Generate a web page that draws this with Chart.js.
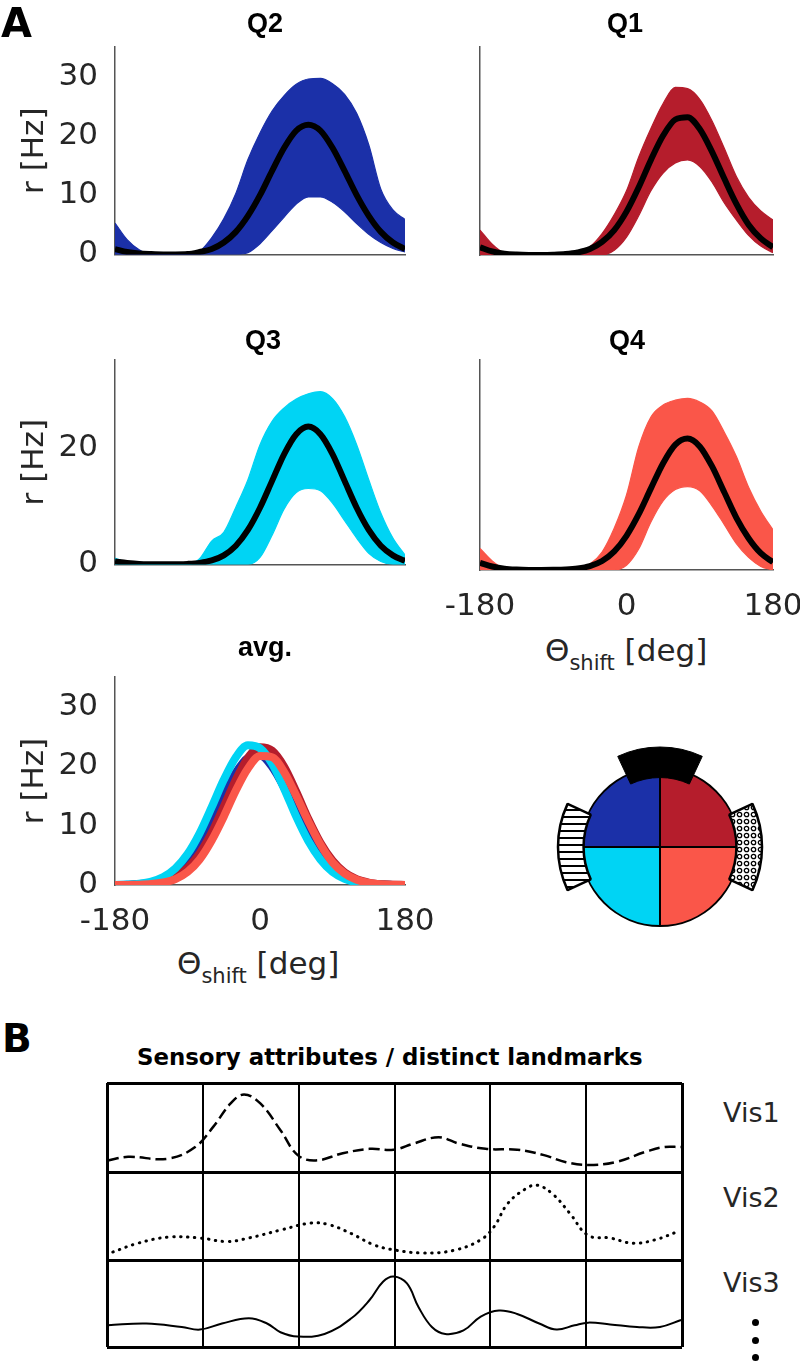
<!DOCTYPE html>
<html><head><meta charset="utf-8">
<script src="https://cdn.jsdelivr.net/npm/chart.js@4.4.1/dist/chart.umd.min.js"></script>
<style>
html,body{margin:0;padding:0;background:#fff;}
body{width:800px;height:1364px;position:relative;overflow:hidden;font-family:"DejaVu Sans",sans-serif;color:#262626;}
.t{position:absolute;white-space:nowrap;line-height:1.2;}
.dot{position:absolute;width:7px;height:7px;border-radius:50%;background:#000;}
</style></head><body>
<script>
// ---------------- DATA ----------------
const theta = [-180,-165,-150,-135,-120,-105,-90,-75,-60,-45,-30,-15,0,15,30,45,60,75,90,105,120,135,150,165,180];

const q2Mean  = [0.9,0.4,0.15,0.05,0,0,0.05,0.4,0.9,2.0,3.8,6.5,10.0,14.1,18.0,20.9,21.9,20.9,18.0,14.1,10.0,6.5,3.8,2.0,0.9];
const q2Upper = [5.3,2.5,0.8,0,0,0,0,0.5,2.8,6.0,10.3,16.0,20.5,24.2,26.8,28.7,29.6,29.7,28.8,27.0,23.8,18.5,11.0,7.5,5.9];
const q2Lower = [0,0,0,0,0,0,0,0,0,0,0,0.3,1.8,4.0,6.3,8.5,9.7,9.7,8.8,7.2,5.2,3.4,2.0,1.0,0.4];

const q1Mean  = [1.3,0.6,0.23,0.08,0.02,0.01,0.05,0.16,0.43,1.0,2.2,4.2,7.3,11.4,16.0,20.1,22.8,23.2,21.2,17.4,12.9,8.6,5.1,2.8,1.3];
const q1Upper = [4.2,1.8,0.3,0,0,0,0.1,0.3,0.6,1.4,3.6,6.8,10.8,16.5,21.3,25.5,28.2,28.0,26.2,22.6,18.0,13.2,9.7,7.4,5.9];
const q1Lower = [0,0,0,0,0,0,0,0,0,0,0,0.8,3.0,6.6,10.8,13.8,15.5,16.0,14.9,12.3,8.8,5.9,3.3,1.5,0.4];

const q3Mean  = [0.5,0.26,0.09,0.03,0.01,0.03,0.09,0.26,0.67,1.55,3.2,5.9,9.7,14.3,18.9,22.3,23.6,22.3,18.9,14.3,9.7,5.9,3.2,1.55,0.6];
const q3Upper = [1.1,0.3,0,0,0,0,0,1.0,4.0,5.5,9.8,14.5,20.5,24.5,26.8,28.3,29.2,29.6,28.4,25.3,20.5,14.5,8.8,4.5,1.6];
const q3Lower = [0,0,0,0,0,0,0,0,0,0,0,0,1.2,5.0,9.5,12.3,13.0,12.6,10.5,7.5,4.5,1.9,0.5,0,0];

const q4Mean  = [1.2,0.59,0.23,0.08,0.02,0.01,0.03,0.09,0.26,0.66,1.5,3.1,5.7,9.3,13.6,17.8,20.9,21.9,20.6,17.3,13.0,8.7,5.3,2.8,1.3];
const q4Upper = [3.6,1.5,0.2,0,0,0,0,0,0.3,1.0,3.0,7.0,12.5,20.5,25.5,27.5,28.3,28.6,28.0,26.5,23.0,18.9,13.8,9.8,6.7];
const q4Lower = [0,0,0,0,0,0,0,0,0,0,0,0,0.8,3.5,8.0,11.5,13.4,13.9,13.2,10.7,7.6,4.4,2.1,0.6,0];

const avgQ2 = [0,0.05,0.15,0.4,0.96,2.1,4.0,6.9,10.7,15.0,18.9,21.4,21.8,19.9,16.4,12.1,8.1,4.8,2.6,1.25,0.54,0.21,0.07,0.02,0];
const avgQ1 = [0,0.02,0.09,0.24,0.62,1.4,2.9,5.3,8.8,13.2,17.7,21.4,23.2,22.6,19.9,15.7,11.1,7.1,4.1,2.1,0.97,0.41,0.15,0.05,0.01];
const avgQ3 = [0,0.08,0.23,0.59,1.35,2.8,5.2,8.7,13.1,17.7,21.5,23.5,23.0,20.4,16.2,11.5,7.4,4.3,2.2,1.04,0.44,0.16,0.05,0.01,0];
const avgQ4 = [0,0.01,0.05,0.16,0.43,1.0,2.2,4.3,7.5,11.5,15.9,19.6,21.7,21.5,19.0,15.0,10.7,6.8,3.8,1.94,0.88,0.36,0.13,0.04,0.01];

const xTickValues = [-180, 0, 180];
const yTicksFull  = [0, 10, 20, 30];
const yTicksQ3    = [0, 20];

// quadrant pie (clockwise from top): Q1, Q4, Q3, Q2
const quadLabels = ['Q1','Q4','Q3','Q2'];
const quadShares = [1, 1, 1, 1];
// cue arcs around the arena, in degrees
const topCue   = [50, 310];          // from -25deg: black cue, gap
const sideCues = [50, 130, 50, 130]; // from 65deg: right cue, gap, left cue, gap

// panel B: landmark tuning curves (x in column units 0..6, y fraction of row)
const vis1X = [0.01,0.22,0.64,0.92,1.11,1.29,1.43,1.60,1.81,1.99,2.18,2.46,2.74,2.99,3.20,3.46,3.67,3.95,4.28,4.56,4.79,5.02,5.30,5.63,5.81,5.99];
const vis1Y = [0.13,0.17,0.15,0.28,0.51,0.77,0.87,0.77,0.47,0.19,0.13,0.21,0.26,0.25,0.32,0.39,0.32,0.26,0.25,0.19,0.11,0.08,0.11,0.23,0.28,0.28];
const vis2X = [0.06,0.32,0.64,0.97,1.25,1.48,1.81,2.13,2.32,2.55,2.79,3.02,3.30,3.62,3.90,4.04,4.18,4.37,4.49,4.65,4.83,5.02,5.25,5.49,5.72,5.95];
const vis2Y = [0.09,0.19,0.26,0.25,0.21,0.25,0.34,0.42,0.40,0.30,0.17,0.11,0.08,0.11,0.23,0.38,0.64,0.81,0.85,0.75,0.53,0.28,0.25,0.19,0.23,0.32];
const vis3X = [0.01,0.41,0.78,0.97,1.20,1.48,1.67,1.81,1.99,2.27,2.55,2.74,2.88,2.99,3.13,3.25,3.39,3.53,3.72,3.90,4.09,4.28,4.51,4.69,4.88,5.02,5.25,5.53,5.77,5.99];
const vis3Y = [0.25,0.27,0.23,0.20,0.27,0.33,0.27,0.17,0.12,0.15,0.33,0.54,0.75,0.81,0.73,0.46,0.23,0.15,0.19,0.35,0.42,0.38,0.27,0.20,0.25,0.28,0.26,0.23,0.23,0.31];
const columnTicks = [0,1,2,3,4,5,6];
const rowTicks = [0,1];

// ---------------- STYLE ----------------
const C_Q2 = '#1b30a8', C_Q1 = '#b51d2c', C_Q3 = '#00d4f4', C_Q4 = '#fa5649';
const AXIS = '#555555', TXT = '#262626';
const FONT = '"DejaVu Sans", sans-serif';
const FS = 31;

function mkCanvas(box) {
  const c = document.createElement('canvas');
  c.width = box.w; c.height = box.h;
  c.style.cssText = `position:absolute;left:${box.l}px;top:${box.t}px;width:${box.w}px;height:${box.h}px`;
  document.body.appendChild(c);
  return c.getContext('2d');
}
function pts(xs, ys) { return xs.map((x, i) => ({x, y: ys[i]})); }

function tuningChart(box, area, datasets, o) {
  const padTop = area.t - box.t, padRight = box.l + box.w - area.r;
  const yW = area.l - box.l, xH = box.t + box.h - area.b;
  return new Chart(mkCanvas(box), {
    type: 'line',
    data: {datasets},
    options: {
      responsive: false, animation: false, devicePixelRatio: 1,
      layout: {padding: {top: padTop, right: padRight, left: 0, bottom: 0}},
      plugins: {legend: {display: false}, tooltip: {enabled: false}},
      elements: {point: {radius: 0}, line: {cubicInterpolationMode: 'monotone'}},
      scales: {
        x: {type: 'linear', min: -180, max: 180,
          afterFit: s => { s.height = xH; },
          afterBuildTicks: s => { s.ticks = xTickValues.map(v => ({value: v})); },
          grid: {display: false, drawTicks: false},
          border: {display: true, color: AXIS, width: 1.5},
          ticks: {display: !!o.xLabels, font: {family: FONT, size: FS}, color: TXT, padding: 18, maxRotation: 0, autoSkip: false}
        },
        y: {min: 0, max: 35,
          afterFit: s => { s.width = yW; },
          afterBuildTicks: s => { s.ticks = (o.yTicks || []).map(v => ({value: v})); },
          grid: {display: false, drawTicks: false},
          border: {display: true, color: AXIS, width: 1.5},
          ticks: {display: !!o.yTicks, font: {family: FONT, size: FS}, color: TXT, padding: 17},
          title: {display: !!o.yTitle, text: 'r [Hz]', font: {family: FONT, size: FS}, color: TXT, padding: {top: 16, bottom: 0}}
        }
      }
    }
  });
}
function bandSets(color, mean, upper, lower) {
  return [
    {data: pts(theta, mean), borderColor: '#000', borderWidth: 6, fill: false, order: 0},
    {data: pts(theta, upper), borderColor: color, borderWidth: 1.2, backgroundColor: color, fill: '+1', order: 1},
    {data: pts(theta, lower), borderColor: color, borderWidth: 1.2, fill: false, order: 2}
  ];
}

// ---------------- TEXT ----------------
function placeText(html, x, base, style, align, fitW) {
  const d = document.createElement('div');
  d.className = 't';
  d.style.cssText += style;
  d.innerHTML = html + '<span class="bl" style="display:inline-block;width:0;height:0;vertical-align:baseline"></span>';
  document.body.appendChild(d);
  const b = d.querySelector('.bl').offsetTop;
  let w = d.offsetWidth;
  if (fitW) { d.style.transformOrigin = '0 0'; d.style.transform = `scaleX(${fitW / w})`; w = fitW; }
  d.style.top = (base - b) + 'px';
  d.style.left = (align === 'center' ? x - w / 2 : align === 'right' ? x - w : x) + 'px';
}

// ---------------- PANEL A ----------------
tuningChart({l: 0, t: 0, w: 470, h: 290}, {l: 115, t: 47, r: 405, b: 255},
  bandSets(C_Q2, q2Mean, q2Upper, q2Lower), {yTicks: yTicksFull, yTitle: true});
tuningChart({l: 420, t: 0, w: 420, h: 290}, {l: 480, t: 47, r: 773, b: 255},
  bandSets(C_Q1, q1Mean, q1Upper, q1Lower), {});
tuningChart({l: 0, t: 300, w: 470, h: 300}, {l: 115, t: 360, r: 405, b: 570},
  bandSets(C_Q3, q3Mean, q3Upper, q3Lower), {yTicks: yTicksQ3, yTitle: true});
tuningChart({l: 410, t: 300, w: 430, h: 330}, {l: 480, t: 360, r: 773, b: 570},
  bandSets(C_Q4, q4Mean, q4Upper, q4Lower), {xLabels: true});
tuningChart({l: 0, t: 630, w: 470, h: 310}, {l: 115, t: 677, r: 405, b: 885}, [
  {data: pts(theta, avgQ4), borderColor: C_Q4, borderWidth: 8, fill: false, order: 0},
  {data: pts(theta, avgQ3), borderColor: C_Q3, borderWidth: 8, fill: false, order: 1},
  {data: pts(theta, avgQ1), borderColor: C_Q1, borderWidth: 8, fill: false, order: 2},
  {data: pts(theta, avgQ2), borderColor: C_Q2, borderWidth: 8, fill: false, order: 3}
], {yTicks: yTicksFull, yTitle: true, xLabels: true});

// arena pie
const NOOPT = {legend: {display: false}, tooltip: {enabled: false}};
new Chart(mkCanvas({l: 560, t: 747, w: 200, h: 200}), {
  type: 'pie',
  data: {labels: quadLabels, datasets: [{data: quadShares, backgroundColor: [C_Q1, C_Q4, C_Q3, C_Q2],
    borderColor: '#000', borderWidth: 2, hoverOffset: 0, offset: 0}]},
  options: {responsive: false, animation: false, devicePixelRatio: 1, radius: 79, plugins: NOOPT}
});
function stripePattern() {
  const c = document.createElement('canvas'); c.width = 8; c.height = 7;
  const g = c.getContext('2d'); g.fillStyle = '#fff'; g.fillRect(0, 0, 8, 7);
  g.fillStyle = '#000'; g.fillRect(0, 5, 8, 2);
  return g.createPattern(c, 'repeat');
}
function circlePattern() {
  const c = document.createElement('canvas'); c.width = 7; c.height = 7;
  const g = c.getContext('2d'); g.fillStyle = '#fff'; g.fillRect(0, 0, 7, 7);
  g.strokeStyle = '#000'; g.lineWidth = 1.3; g.beginPath(); g.arc(3.5, 3.5, 2.2, 0, Math.PI * 2); g.stroke();
  return g.createPattern(c, 'repeat');
}
const clear = 'rgba(0,0,0,0)';
new Chart(mkCanvas({l: 540, t: 727, w: 240, h: 240}), {
  type: 'doughnut',
  data: {datasets: [{data: topCue, backgroundColor: ['#000', clear], borderColor: ['#000', clear],
    borderWidth: [1, 0], hoverOffset: 0, offset: 0}]},
  options: {responsive: false, animation: false, devicePixelRatio: 1, radius: 100, cutout: 83, rotation: -25, plugins: NOOPT}
});
new Chart(mkCanvas({l: 540, t: 727, w: 240, h: 240}), {
  type: 'doughnut',
  data: {datasets: [{data: sideCues, backgroundColor: [circlePattern(), clear, stripePattern(), clear],
    borderColor: ['#000', clear, '#000', clear], borderWidth: [2.5, 0, 2.5, 0], hoverOffset: 0, offset: 0}]},
  options: {responsive: false, animation: false, devicePixelRatio: 1, radius: 102, cutout: 89, rotation: 65, plugins: NOOPT}
});

// ---------------- PANEL B ----------------
function visChart(area, xs, ys, dash, width, cap) {
  const box = {l: area.l - 10, t: area.t - 10, w: area.r - area.l + 20, h: area.b - area.t + 20};
  new Chart(mkCanvas(box), {
    type: 'line',
    data: {datasets: [{data: pts(xs, ys), borderColor: '#000', borderWidth: width, borderDash: dash,
      borderCapStyle: cap, fill: false, tension: 0.4}]},
    options: {
      responsive: false, animation: false, devicePixelRatio: 1,
      layout: {padding: {top: 10, right: 10, left: 0, bottom: 0}},
      plugins: NOOPT,
      elements: {point: {radius: 0}},
      scales: {
        x: {type: 'linear', min: 0, max: 6, afterFit: s => { s.height = 10; },
          afterBuildTicks: s => { s.ticks = columnTicks.map(v => ({value: v})); },
          ticks: {display: false},
          grid: {color: '#000', drawTicks: false, lineWidth: c => (c.tick && (c.tick.value === 0 || c.tick.value === 6)) ? 3 : 2},
          border: {display: false}},
        y: {min: 0, max: 1, afterFit: s => { s.width = 10; },
          afterBuildTicks: s => { s.ticks = rowTicks.map(v => ({value: v})); },
          ticks: {display: false},
          grid: {color: '#000', drawTicks: false, lineWidth: 3},
          border: {display: false}}
      }
    }
  });
}
visChart({l: 107, t: 1083, r: 682, b: 1172}, vis1X, vis1Y, [11, 5], 2.5, 'butt');
visChart({l: 107, t: 1172, r: 682, b: 1260}, vis2X, vis2Y, [0.5, 6.5], 3, 'round');
visChart({l: 107, t: 1260, r: 682, b: 1347}, vis3X, vis3Y, [], 2, 'butt');

// ---------------- TEXTS ----------------
const BOLD = 'font-family:"Liberation Sans",Arial,sans-serif;font-weight:bold;color:#000;font-size:27px;';
placeText('A', 1, 37, 'font-family:"DejaVu Sans",sans-serif;font-weight:bold;color:#000;font-size:40px;', 'left');
placeText('Q2', 265, 32, BOLD, 'center');
placeText('Q1', 625, 32, BOLD, 'center');
placeText('Q3', 263, 349, BOLD, 'center');
placeText('Q4', 627, 349, BOLD, 'center');
placeText('avg.', 265, 656, BOLD, 'center');
const THETA = 'Θ<span style="font-size:21px;vertical-align:-9px">shift</span> [deg]';
placeText(THETA, 626, 661, 'font-size:31px;color:' + TXT + ';', 'center');
placeText(THETA, 258, 974, 'font-size:31px;color:' + TXT + ';', 'center');
placeText('B', 2, 1052, 'font-family:"DejaVu Sans",sans-serif;font-weight:bold;color:#000;font-size:39px;', 'left');
placeText('Sensory attributes / distinct landmarks', 137, 1065,
  'font-family:"DejaVu Sans Condensed","DejaVu Sans",sans-serif;font-weight:bold;color:#000;font-size:23px;', 'left', 506);
const VIS = 'font-size:27px;color:' + TXT + ';';
placeText('Vis1', 723, 1122, VIS, 'left');
placeText('Vis2', 723, 1207, VIS, 'left');
placeText('Vis3', 723, 1292, VIS, 'left');
[1322, 1340, 1357].forEach(y => {
  const d = document.createElement('div'); d.className = 'dot';
  d.style.left = '752px'; d.style.top = (y - 3.5) + 'px'; document.body.appendChild(d);
});
</script>
</body></html>
